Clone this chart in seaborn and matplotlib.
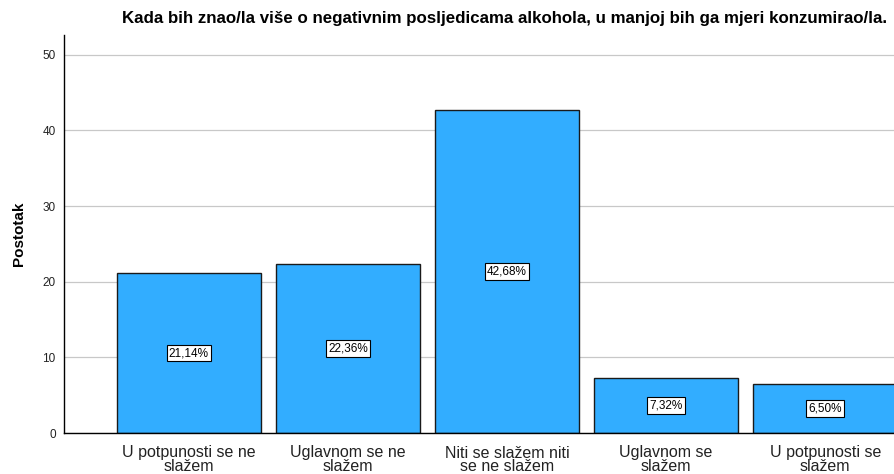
import matplotlib
matplotlib.use("Agg")
import matplotlib.pyplot as plt
import seaborn as sns
import pandas as pd

# ── 数据 ──
categories = [
    "U potpunosti se ne\nslažem",
    "Uglavnom se ne\nslažem",
    "Niti se slažem niti\nse ne slažem",
    "Uglavnom se\nslažem",
    "U potpunosti se\nslažem",
]
percentages = [21.14, 22.36, 42.68, 7.32, 6.50]
y_ticks = [0, 10, 20, 30, 40, 50]
title = "Kada bih znao/la više o negativnim posljedicama alkohola, u manjoj bih ga mjeri konzumirao/la."

df = pd.DataFrame({"kategorija": categories, "postotak": percentages})

sns.set_theme(style="white")
plt.rcParams["font.family"] = ["Liberation Sans", "DejaVu Sans"]

fig = plt.figure(figsize=(8.95, 4.74), dpi=100)
ax = fig.add_axes([64 / 895, 1 - 433 / 474, 1 - 64 / 895 + 0.002, (433 - 35) / 474])

ax.set_axisbelow(True)
ax.yaxis.grid(True, color="#c8c8c8", linewidth=0.9)
sns.barplot(data=df, x="kategorija", y="postotak", color="#32adff",
            saturation=1, width=0.905, edgecolor="#1a1a1a", linewidth=1.0, ax=ax)

# 百分比标签（白底黑框）
for i, v in enumerate(percentages):
    ax.text(i, v / 2, f"{v:.2f}%".replace(".", ","), ha="center", va="center",
            fontsize=8.5, color="black",
            bbox=dict(boxstyle="square,pad=0.2", facecolor="white", edgecolor="black", linewidth=0.8))

ax.set_xlim(-0.785, 4.45)
ax.set_ylim(0, 52.6)
ax.set_yticks(y_ticks)
ax.tick_params(axis="y", labelsize=8.5, colors="#222222", length=0, pad=6)
ax.tick_params(axis="x", labelsize=11.5, colors="#222222", length=0, pad=9)
for lbl in ax.get_xticklabels():
    lbl.set_linespacing(0.85)

ax.set_xlabel("")
ax.set_ylabel("Postotak", fontsize=11, fontweight="bold", labelpad=12, color="black")

for side in ["top", "right"]:
    ax.spines[side].set_visible(False)
ax.spines["left"].set_color("black")
ax.spines["bottom"].set_color("black")
ax.spines["left"].set_linewidth(1.0)
ax.spines["bottom"].set_linewidth(1.0)

fig.text(505 / 895, 1 - 18 / 474, title, ha="center", va="center",
         fontsize=12.2, fontweight="bold", color="black")

fig.savefig("out.png", dpi=100, facecolor="white")
